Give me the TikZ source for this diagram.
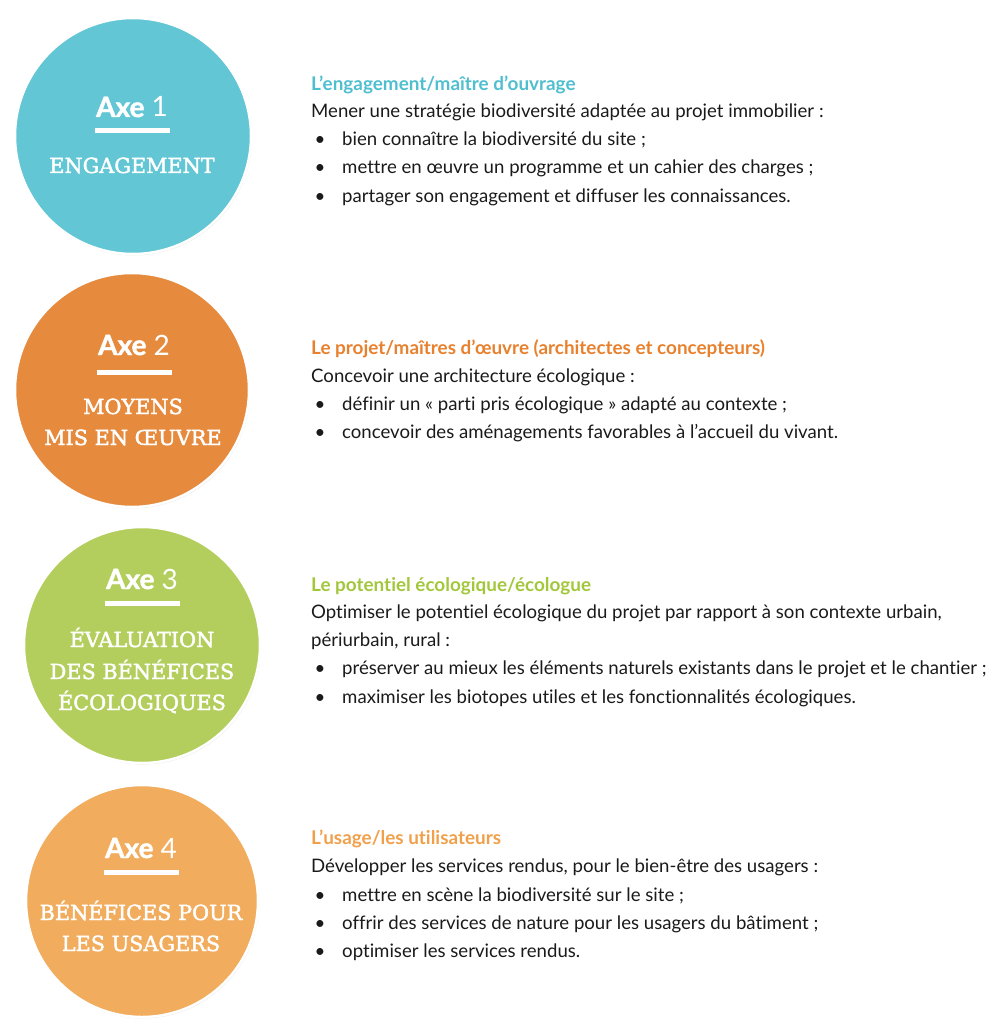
\documentclass[tikz,border=0pt]{standalone}
\usepackage{fontspec}
\setmainfont{Lato}[Ligatures=CommonOff]
\newfontfamily\slabfont{DejaVu Serif}[FakeBold=2]
\newfontfamily\axefont{Lato}[BoldFeatures={FakeBold=1.5}]
\usetikzlibrary{shadows}
\definecolor{axeblue}{HTML}{62C6D5}
\definecolor{axeorange}{HTML}{E68A3E}
\definecolor{axegreen}{HTML}{B3CE5C}
\definecolor{axepeach}{HTML}{F1AC5E}
\definecolor{titleblue}{HTML}{4FBFD0}
\definecolor{titleorange}{HTML}{E8812E}
\definecolor{titlegreen}{HTML}{A2C73B}
\definecolor{titlepeach}{HTML}{F0A04B}
\definecolor{bodytext}{HTML}{1A1A1A}
\begin{document}
\begin{tikzpicture}[x=1pt,y=-1pt,
    axe/.style={circle, draw=white, line width=2.5pt, minimum size=#1, inner sep=0pt,
        drop shadow={opacity=0.15, shadow xshift=1pt, shadow yshift=-1.5pt}},
    axenum/.style={anchor=base, text=white, inner sep=0pt, font=\axefont\fontsize{28}{30}\selectfont},
    axename/.style={anchor=base, text=white, inner sep=0pt, font=\slabfont\fontsize{20.8}{24}\selectfont},
    axerule/.style={white, line width=5pt},
    headline/.style={anchor=base west, inner sep=0pt, font=\fontsize{18.9}{20}\selectfont\bfseries},
    bodyline/.style={anchor=base west, inner sep=0pt, text=bodytext, font=\fontsize{18.6}{20}\selectfont},
    dot/.style={anchor=base, inner sep=0pt, text=bodytext, font=\fontsize{18.6}{20}\selectfont}
]
\useasboundingbox (0,0) rectangle (1000,1027);

\node[axe=236pt, fill=axeblue]   (c1) at (133,136) {};
\node[axe=234pt, fill=axeorange] (c2) at (132,390) {};
\node[axe=236pt, fill=axegreen]  (c3) at (142,645) {};
\node[axe=232pt, fill=axepeach]  (c4) at (142,901) {};

\node[axenum] (n1) at (132,117) {\textbf{Axe} 1};
\node[axenum] (n2) at (134,355) {\textbf{Axe} 2};
\node[axenum] (n3) at (142,589) {\textbf{Axe} 3};
\node[axenum] (n4) at (141,858) {\textbf{Axe} 4};

\coordinate (u1) at (132,131);
\coordinate (u2) at (134,372);
\coordinate (u3) at (142,603);
\coordinate (u4) at (141,872);
\foreach \u in {u1,u2,u3,u4}
  \draw[axerule] ([xshift=-37.5pt]\u) -- ([xshift=37.5pt]\u);

\node[axename] (m1)  at (132,173) {ENGAGEMENT};
\node[axename] (m2a) at (133,414) {MOYENS};
\node[axename] (m2b) at (133,445) {MIS EN ŒUVRE};
\node[axename] (m3a) at (142,647) {ÉVALUATION};
\node[axename] (m3b) at (142,679) {DES BÉNÉFICES};
\node[axename] (m3c) at (142,710) {ÉCOLOGIQUES};
\node[axename] (m4a) at (141,920) {BÉNÉFICES POUR};
\node[axename] (m4b) at (141,951) {LES USAGERS};

\node[headline, text=titleblue] (t1) at (311,91) {L’engagement/maître d’ouvrage};
\node[bodyline] (t1a) at (311,118) {Mener une stratégie biodiversité adaptée au projet immobilier :};
\node[dot] (b1a) at (320,146) {•};
\node[bodyline] (t1b) at (342,146) {bien connaître la biodiversité du site ;};
\node[dot] (b1b) at (320,174) {•};
\node[bodyline] (t1c) at (342,174) {mettre en œuvre un programme et un cahier des charges ;};
\node[dot] (b1c) at (320,202) {•};
\node[bodyline] (t1d) at (342,202) {partager son engagement et diffuser les connaissances.};

\node[headline, text=titleorange] (t2) at (311,354) {Le projet/maîtres d’œuvre (architectes et concepteurs)};
\node[bodyline] (t2a) at (311,382) {Concevoir une architecture écologique :};
\node[dot] (b2a) at (320,410) {•};
\node[bodyline] (t2b) at (342,410) {définir un « parti pris écologique » adapté au contexte ;};
\node[dot] (b2b) at (320,438) {•};
\node[bodyline] (t2c) at (342,438) {concevoir des aménagements favorables à l’accueil du vivant.};

\node[headline, text=titlegreen] (t3) at (311,591) {Le potentiel écologique/écologue};
\node[bodyline] (t3a) at (311,618) {Optimiser le potentiel écologique du projet par rapport à son contexte urbain,};
\node[bodyline] (t3b) at (311,646) {périurbain, rural :};
\node[dot] (b3a) at (320,674) {•};
\node[bodyline] (t3c) at (342,674) {préserver au mieux les éléments naturels existants dans le projet et le chantier ;};
\node[dot] (b3b) at (320,703) {•};
\node[bodyline] (t3d) at (342,703) {maximiser les biotopes utiles et les fonctionnalités écologiques.};

\node[headline, text=titlepeach] (t4) at (311,844) {L’usage/les utilisateurs};
\node[bodyline] (t4a) at (311,872) {Développer les services rendus, pour le bien-être des usagers :};
\node[dot] (b4a) at (320,901) {•};
\node[bodyline] (t4b) at (342,901) {mettre en scène la biodiversité sur le site ;};
\node[dot] (b4b) at (320,929) {•};
\node[bodyline] (t4c) at (342,929) {offrir des services de nature pour les usagers du bâtiment ;};
\node[dot] (b4c) at (320,957) {•};
\node[bodyline] (t4d) at (342,957) {optimiser les services rendus.};
\end{tikzpicture}
\end{document}
